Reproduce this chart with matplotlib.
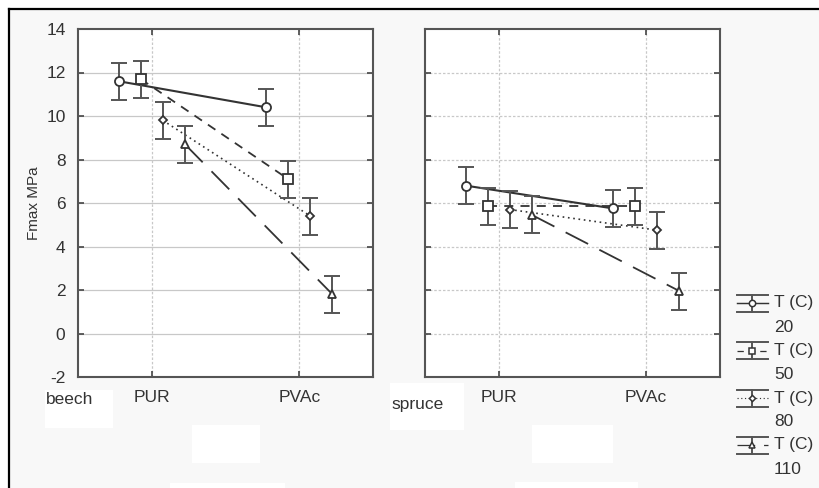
import matplotlib
matplotlib.use("Agg")
import matplotlib.pyplot as plt
from matplotlib.patches import Rectangle
import numpy as np

plt.rcParams['font.family'] = ['Liberation Sans', 'DejaVu Sans']
plt.rcParams['axes.unicode_minus'] = False

# ---------------- data ----------------
categories = ["PUR", "PVAc"]
temps = ["20", "50", "80", "110"]
woods = ["beech", "spruce"]

beech_T20 = [11.6, 10.4]
beech_T50 = [11.7, 7.1]
beech_T80 = [9.8, 5.4]
beech_T110 = [8.7, 1.8]
beech_err = [0.85, 0.85]

spruce_T20 = [6.8, 5.75]
spruce_T50 = [5.85, 5.85]
spruce_T80 = [5.7, 4.75]
spruce_T110 = [5.45, 1.95]
spruce_err = [0.85, 0.85]

yticks = [-2, 0, 2, 4, 6, 8, 10, 12, 14]

# ---------------- style ----------------
offsets = [-0.225, -0.075, 0.075, 0.225]
markers = ['o', 's', 'D', '^']
msizes = [6.5, 6.5, 4.5, 6]
lstyles = ['-', (0, (5, 4)), (0, (1, 2.2)), (0, (14, 7))]
lwidths = [1.5, 1.3, 1.2, 1.3]
lcol = '#333333'
ecol = '#555555'

W, H = 819, 488
fig = plt.figure(figsize=(W / 100, H / 100), dpi=100)
fig.patch.set_facecolor('white')

# background panel with black frame on top/left
bg = fig.add_axes([0, 0, 1, 1])
bg.set_xlim(0, W)
bg.set_ylim(H, 0)
bg.axis('off')
bg.add_patch(Rectangle((9, 8.5), W - 9, H - 8.5, facecolor='#f8f8f8', edgecolor='none'))
bg.plot([8.5, W], [8.5, 8.5], color='black', lw=1.6)
bg.plot([9, 9], [8.5, H], color='black', lw=1.6)
# white patches (scan artefacts)
for (x0, y0, x1, y1) in [(45, 390, 113, 428), (192, 425, 260, 463), (170, 483, 285, 488),
                         (390, 383, 464, 430), (532, 425, 613, 463), (515, 482, 638, 488)]:
    bg.add_patch(Rectangle((x0, y0), x1 - x0, y1 - y0, facecolor='white', edgecolor='none'))

ax_l = fig.add_axes([78 / W, 1 - 377 / H, 295 / W, 348 / H])
ax_r = fig.add_axes([425 / W, 1 - 377 / H, 295 / W, 348 / H])

data = {
    "beech": ([beech_T20, beech_T50, beech_T80, beech_T110], beech_err),
    "spruce": ([spruce_T20, spruce_T50, spruce_T80, spruce_T110], spruce_err),
}

for ax, wood in zip([ax_l, ax_r], woods):
    series, err = data[wood]
    ax.set_facecolor('white')
    ax.set_xlim(-0.5, 1.5)
    ax.set_ylim(-2, 14)
    ax.set_yticks(yticks)
    ax.set_xticks(range(len(categories)))
    ax.set_xticklabels(categories, fontsize=12.5, color='#333333')
    for y in yticks[1:-1]:
        ax.axhline(y, color='#c8c8c8', lw=0.9,
                   ls='-' if wood == 'beech' else (0, (2, 1.5)), zorder=0)
    for x in range(len(categories)):
        ax.axvline(x, color='#c8c8c8', lw=0.9, ls=(0, (2, 1.5)), zorder=0)
    for sp in ax.spines.values():
        sp.set_color('#555555')
        sp.set_linewidth(1.5)
    ax.tick_params(direction='in', length=4, width=1.2, color='#444444',
                   top=True, right=True, labelsize=12.5, labelcolor='#333333', pad=9)
    if wood == 'spruce':
        ax.tick_params(labelleft=False)
    for i, vals in enumerate(series):
        xs = np.arange(len(categories)) + offsets[i]
        ax.plot(xs, vals, color=lcol, ls=lstyles[i], lw=lwidths[i], zorder=2)
        ax.errorbar(xs, vals, yerr=err, fmt='none', ecolor=ecol,
                    elinewidth=1.4, capsize=6, capthick=1.4, zorder=3)
        ax.plot(xs, vals, ls='none', marker=markers[i], ms=msizes[i], mfc='white',
                mec=lcol, mew=1.3, zorder=4)

ax_l.set_ylabel("Fmax MPa", fontsize=11, color='#333333', labelpad=4)

# wood labels
fig.text(46 / W, 1 - 400 / H, "beech", fontsize=12.5, color='#333333', va='center', ha='left')
fig.text(391 / W, 1 - 404 / H, "spruce", fontsize=12.5, color='#333333', va='center', ha='left')

# legend (drawn manually)
lg = fig.add_axes([720 / W, 0, 99 / W, 208 / H])
lg.set_xlim(720, 819)
lg.set_ylim(488, 280)
lg.axis('off')
centers = [303, 350.5, 398, 445]
for i, t in enumerate(temps):
    c = centers[i]
    lg.plot([737, 768], [c - 8.5, c - 8.5], color=ecol, lw=1.4)
    lg.plot([737, 768], [c + 8.5, c + 8.5], color=ecol, lw=1.4)
    lg.plot([752.5, 752.5], [c - 8.5, c + 8.5], color=ecol, lw=1.4)
    lg.plot([737, 768], [c, c], color=lcol, ls=lstyles[i], lw=lwidths[i] * 0.7)
    lg.plot([752.5], [c], marker=markers[i], ms=msizes[i] * 0.7, mfc='white', mec=lcol, mew=1.1)
    lg.text(774, c, "T (C)", fontsize=12.5, color='#333333', va='center', ha='left')
    lg.text(774, c + 24, t, fontsize=12.5, color='#333333', va='center', ha='left')

fig.savefig("out.png", dpi=100)
